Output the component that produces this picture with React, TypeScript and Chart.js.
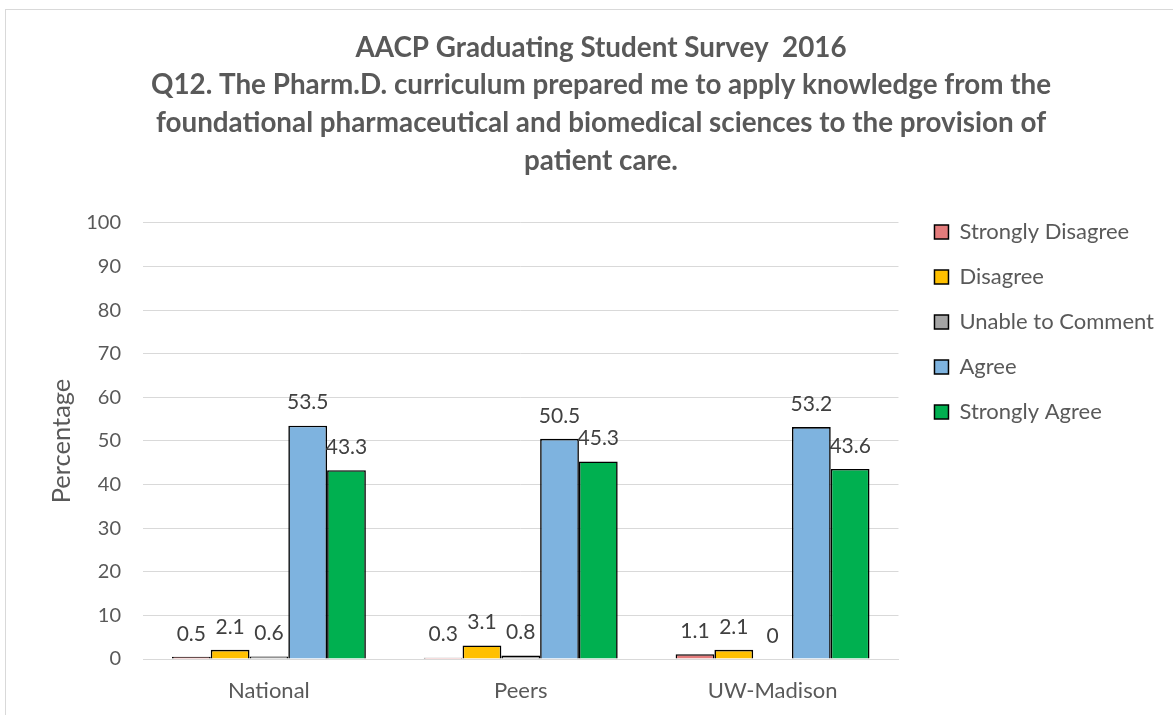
import React, { useEffect, useRef } from "react";
import { Chart, registerables } from "chart.js";

Chart.register(...registerables);

const categories = ["National", "Peers", "UW-Madison"];
const seriesNames = ["Strongly Disagree", "Disagree", "Unable to Comment", "Agree", "Strongly Agree"];
const stronglyDisagree = [0.5, 0.3, 1.1];
const disagree = [2.1, 3.1, 2.1];
const unableToComment = [0.6, 0.8, 0];
const agree = [53.5, 50.5, 53.2];
const stronglyAgree = [43.3, 45.3, 43.6];
const seriesColors = ["#E47C7C", "#FFC000", "#A5A5A5", "#7EB3DF", "#00B050"];
const yTicks = [0, 10, 20, 30, 40, 50, 60, 70, 80, 90, 100];
const titleLines = [
  "AACP Graduating Student Survey  2016",
  "Q12. The Pharm.D. curriculum prepared me to apply knowledge from the",
  "foundational pharmaceutical and biomedical sciences to the provision of",
  "patient care.",
];

const FONT = "Lato, 'Open Sans', sans-serif";

const dataLabels = {
  id: "dataLabels",
  afterDatasetsDraw(chart: any) {
    const ctx = chart.ctx;
    ctx.save();
    ctx.font = `21px ${FONT}`;
    ctx.fillStyle = "#404040";
    ctx.textAlign = "center";
    ctx.textBaseline = "middle";
    chart.data.datasets.forEach((ds: any, i: number) => {
      const meta = chart.getDatasetMeta(i);
      meta.data.forEach((el: any, j: number) => {
        ctx.fillText(String(ds.data[j]), el.x, el.y - 23);
      });
    });
    ctx.restore();
  },
};

export default function App() {
  const ref = useRef<HTMLCanvasElement>(null);
  useEffect(() => {
    if (!ref.current) return;
    const allSeries = [stronglyDisagree, disagree, unableToComment, agree, stronglyAgree];
    const chart = new Chart(ref.current, {
      type: "bar",
      data: {
        labels: categories,
        datasets: allSeries.map((d, i) => ({
          label: seriesNames[i],
          data: d,
          backgroundColor: seriesColors[i],
          borderColor: "#000000",
          borderWidth: 1.6,
          categoryPercentage: 0.77,
          barPercentage: 1,
          yAxisID: "y",
        })),
      },
      options: {
        responsive: false,
        animation: false,
        layout: { padding: { left: 32, right: 9, top: 0, bottom: 0 } },
        plugins: {
          title: {
            display: true,
            text: titleLines,
            color: "#595959",
            font: { family: FONT, size: 27.8, weight: "bold", lineHeight: 1.356 },
            padding: { top: 18.8, bottom: 43.4 },
          },
          legend: {
            display: true,
            position: "right",
            align: "start",
            maxWidth: 400,
            title: { display: true, text: "", font: { size: 10, lineHeight: 1 }, padding: { top: 178, bottom: 0 } },
            labels: {
              boxWidth: 14,
              boxHeight: 14,
              padding: 23,
              color: "#595959",
              font: { family: FONT, size: 22 },
              generateLabels: (chart: any) =>
                chart.data.datasets.map((ds: any, i: number) => ({
                  text: ds.label,
                  fillStyle: ds.backgroundColor,
                  strokeStyle: "#000000",
                  lineWidth: 1.5,
                  datasetIndex: i,
                  hidden: false,
                  fontColor: "#595959",
                })),
            },
          },
          tooltip: { enabled: false },
        },
        scales: {
          x: {
            grid: { display: false, drawTicks: false },
            border: { display: true, color: "#d9d9d9", width: 1 },
            ticks: { color: "#595959", font: { family: FONT, size: 22 }, padding: 19 },
            afterFit: (s: any) => { s.height = 56; },
          },
          y: {
            min: 0,
            max: 100,
            afterBuildTicks: (s: any) => { s.ticks = yTicks.map((v) => ({ value: v })); },
            ticks: { color: "#595959", font: { family: FONT, size: 20 }, padding: 22 },
            grid: { color: "#d9d9d9", lineWidth: 1, drawTicks: false },
            border: { display: false },
            title: {
              display: true,
              text: "Percentage",
              color: "#595959",
              font: { family: FONT, size: 25.5 },
              padding: { top: 8.7, bottom: 0 },
            },
            afterFit: (s: any) => { s.width = 105; },
          },
          yRight: {
            type: "linear",
            position: "right",
            display: true,
            grid: { display: false, drawTicks: false },
            border: { display: false },
            ticks: { display: false },
            afterFit: (s: any) => { s.width = 13; },
          },
        },
      },
      plugins: [dataLabels],
    });
    return () => chart.destroy();
  }, []);
  return (
    <div
      style={{
        position: "fixed",
        left: 5,
        top: 9,
        width: 1168,
        height: 706,
        borderLeft: "1px solid #d9d9d9",
        borderTop: "1px solid #d9d9d9",
        background: "#fff",
      }}
    >
      <canvas ref={ref} width={1167} height={705} style={{ width: 1167, height: 705, display: "block" }} />
    </div>
  );
}
